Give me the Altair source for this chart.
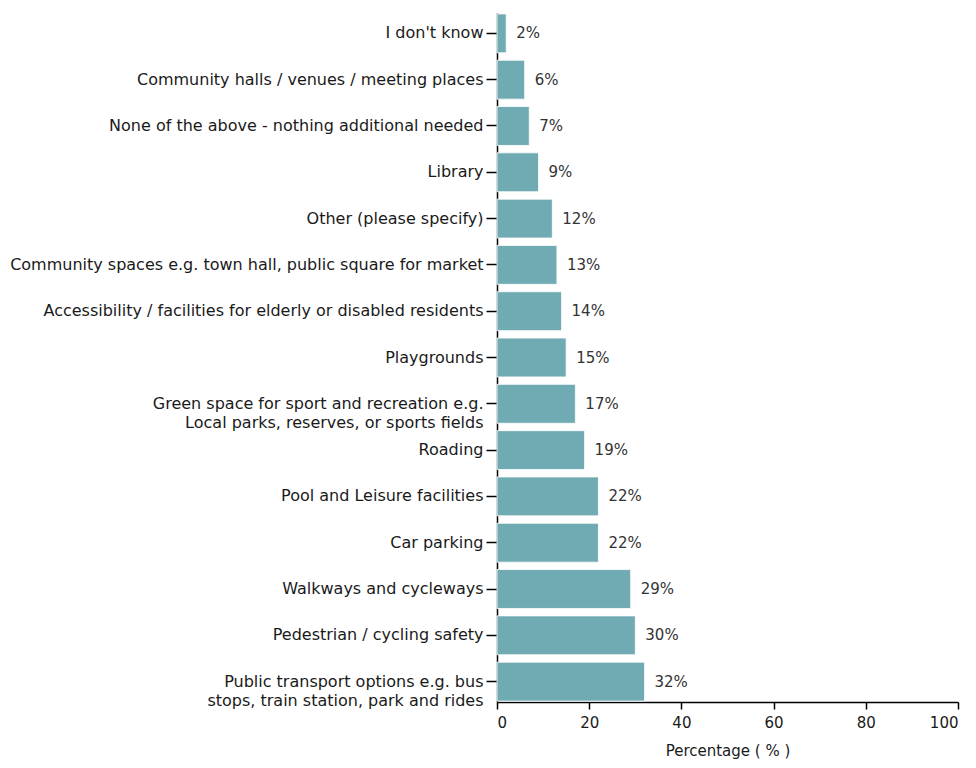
import altair as alt
import pandas as pd

categories = [
    "I don't know",
    "Community halls / venues / meeting places",
    "None of the above - nothing additional needed",
    "Library",
    "Other (please specify)",
    "Community spaces e.g. town hall, public square for market",
    "Accessibility / facilities for elderly or disabled residents",
    "Playgrounds",
    "Green space for sport and recreation e.g.|Local parks, reserves, or sports fields",
    "Roading",
    "Pool and Leisure facilities",
    "Car parking",
    "Walkways and cycleways",
    "Pedestrian / cycling safety",
    "Public transport options e.g. bus|stops, train station, park and rides",
]
values = [2, 6, 7, 9, 12, 13, 14, 15, 17, 19, 22, 22, 29, 30, 32]
value_labels = ["2%", "6%", "7%", "9%", "12%", "13%", "14%", "15%", "17%", "19%",
                "22%", "22%", "29%", "30%", "32%"]

df = pd.DataFrame({"category": categories, "value": values, "label": value_labels})

FONT = "DejaVu Sans"

y_enc = alt.Y(
    "category:N",
    sort=categories,
    scale=alt.Scale(paddingInner=0.16, paddingOuter=0.02),
    axis=alt.Axis(
        title=None,
        labelExpr="split(datum.label, '|')",
        labelFont=FONT,
        labelFontSize=16,
        labelColor="#1a1a1a",
        labelLimit=600,
        labelLineHeight=19,
        labelPadding=3,
        tickSize=11,
        tickColor="#000000",
        domainColor="#000000",
        domainWidth=1.5,
        tickWidth=1.5,
    ),
)

x_enc = alt.X(
    "value:Q",
    scale=alt.Scale(domain=[0, 100]),
    axis=alt.Axis(
        title="Percentage ( % )",
        values=[0, 20, 40, 60, 80, 100],
        grid=False,
        labelFont=FONT,
        labelFontSize=15,
        labelColor="#1a1a1a",
        labelPadding=6,
        titleFont=FONT,
        titleFontSize=15,
        titleFontWeight="normal",
        titleColor="#1a1a1a",
        titlePadding=13,
        tickSize=7,
        tickColor="#000000",
        domainColor="#000000",
        domainWidth=1.5,
        tickWidth=1.5,
    ),
)

bars = alt.Chart(df).mark_bar(color="#70AAB2", stroke="#ffffff", strokeWidth=0.8).encode(
    x=x_enc, y=y_enc
)

text = alt.Chart(df).mark_text(
    align="left", baseline="middle", dx=10, font=FONT, fontSize=15, color="#333333"
).encode(
    x=alt.X("value:Q"),
    y=alt.Y("category:N", sort=categories),
    text="label:N",
)

chart = (
    alt.layer(bars, text)
    .properties(
        width=461,
        height=689,
        background="#ffffff",
        autosize=alt.AutoSizeParams(type="none"),
        padding={"left": 489, "top": 5, "right": 10, "bottom": 58},
    )
    .configure_view(strokeWidth=0, stroke="transparent")
)

chart.save("out.html", embed_options={"renderer": "svg", "actions": False})
